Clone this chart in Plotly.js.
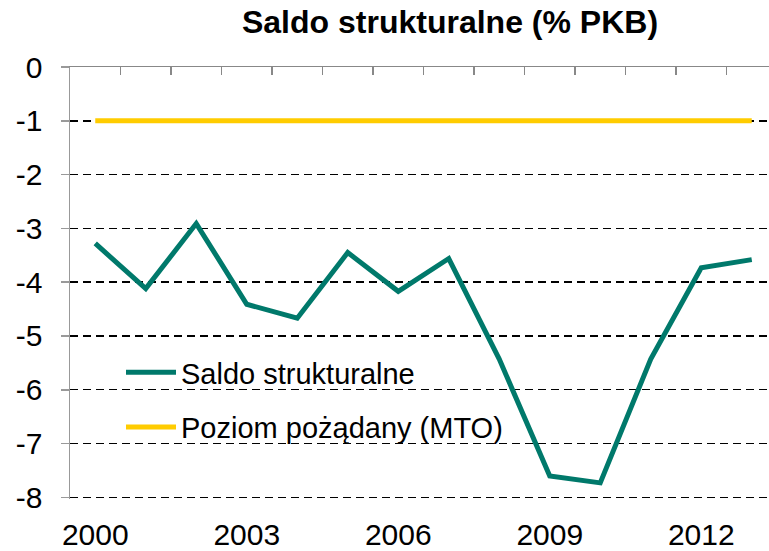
<!DOCTYPE html>
<html>
<head>
<meta charset="utf-8">
<script src="https://cdn.plot.ly/plotly-3.0.1.min.js"></script>
<style>html,body{margin:0;padding:0;background:#fff;}#chart{width:769px;height:551px;}</style>
</head>
<body>
<div id="chart"></div>
<script>
const years = [2000,2001,2002,2003,2004,2005,2006,2007,2008,2009,2010,2011,2012,2013];
const saldo = [-3.28,-4.12,-2.91,-4.41,-4.67,-3.45,-4.17,-3.56,-5.43,-7.6,-7.73,-5.43,-3.73,-3.58];
const mto = [-1,-1,-1,-1,-1,-1,-1,-1,-1,-1,-1,-1,-1,-1];
const xTickVals = [2000,2003,2006,2009,2012];
const xTickText = ['2000','2003','2006','2009','2012'];
const yTickVals = [0,-1,-2,-3,-4,-5,-6,-7,-8];
const yTickText = ['0','-1','-2','-3','-4','-5','-6','-7','-8'];
const boundaries = [1999.5,2000.5,2001.5,2002.5,2003.5,2004.5,2005.5,2006.5,2007.5,2008.5,2009.5,2010.5,2011.5,2012.5,2013.5];

const font = 'Liberation Sans, Arial, sans-serif';
const xRange = [1999.5, 1999.5 + 699/50.5];
const yRange = [-8.03, 0];

const traces = [
  {x: years, y: saldo, type: 'scatter', mode: 'lines', name: 'Saldo strukturalne',
   line: {color: '#00796B', width: 5}, legendgroup: 'a'},
  {x: years, y: mto, type: 'scatter', mode: 'lines', name: 'Poziom pożądany (MTO)',
   line: {color: '#FFCC00', width: 5}, legendgroup: 'b', xaxis: 'x2'}
];

const layout = {
  width: 769, height: 551,
  margin: {l: 70, r: 0, t: 67, b: 52, pad: 0},
  paper_bgcolor: '#fff', plot_bgcolor: '#fff',
  font: {family: font, color: '#000', size: 29},
  title: {text: '<b>Saldo strukturalne (% PKB)</b>', font: {family: font, size: 32, color: '#000'},
          xref: 'container', yref: 'container', x: 450/769, xanchor: 'center', y: 1 - 22/551, yanchor: 'middle'},
  showlegend: true,
  legend: {x: (121-70)/699, y: 1 - (347-67)/432, xanchor: 'left', yanchor: 'top',
           bgcolor: 'rgba(0,0,0,0)', font: {size: 29, family: font}, tracegroupgap: 14, itemwidth: 50},
  xaxis: {range: xRange, tickvals: xTickVals, ticktext: xTickText, showgrid: false, zeroline: false,
          showline: false, ticks: '', ticklabelstandoff: 15, tickfont: {size: 30, family: font}},
  xaxis2: {range: xRange, overlaying: 'x', side: 'top', anchor: 'y', tickvals: boundaries,
           showticklabels: false, ticks: 'inside', ticklen: 8, tickwidth: 1.5, tickcolor: '#888',
           showline: true, linecolor: '#888', linewidth: 1.5, showgrid: false, zeroline: false},
  yaxis: {range: yRange, tickvals: yTickVals, ticktext: yTickText, showgrid: true, gridcolor: '#000', gridwidth: 1.4,
          griddash: '8px,5px', zeroline: false, showline: true, linecolor: '#999', linewidth: 1.5,
          ticks: 'outside', ticklen: 8, tickcolor: '#999', tickwidth: 1.5, ticklabelstandoff: 12,
          tickfont: {size: 30, family: font}}
};

Plotly.newPlot('chart', traces, layout, {displayModeBar: false, staticPlot: true});
</script>
</body>
</html>
